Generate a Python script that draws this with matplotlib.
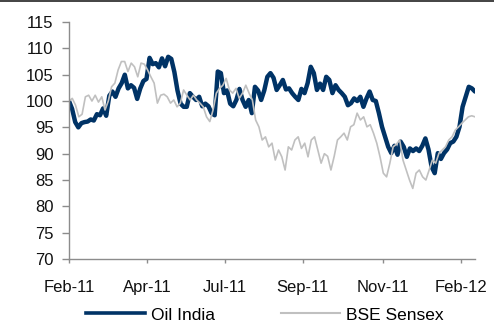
import numpy as np
import matplotlib
matplotlib.use("Agg")
from matplotlib import pyplot as plt
from matplotlib.lines import Line2D

plt.rcParams['font.family'] = ['Liberation Sans', 'DejaVu Sans']

# Rebased prices (start = 100)
oil_india = [100, 98.5, 96.0, 95.0, 95.8, 96.0, 96.1, 96.5, 96.3, 97.5, 97.3, 98.6, 97.2,
             101.0, 101.8, 100.8, 102.4, 103.4, 105.0, 102.4, 103.0, 102.5, 100.4, 102.4,
             103.8, 104.2, 108.2, 107.0, 107.2, 106.4, 108.1, 106.6, 108.4, 108.0, 105.5,
             102.0, 99.5, 98.9, 98.9, 101.5, 100.8, 100.2, 100.8, 99.0, 99.5, 99.0, 97.7,
             97.3, 105.6, 105.3, 101.5, 102.0, 99.5, 99.0, 100.2, 102.3, 100.2, 98.9, 100.2,
             97.7, 102.7, 102.0, 100.2, 102.0, 104.6, 105.3, 104.4, 102.1, 103.0, 104.0,
             102.2, 102.4, 101.5, 100.8, 100.2, 102.3, 101.5, 103.4, 106.5, 105.3, 102.1,
             103.3, 102.1, 104.6, 104.0, 101.5, 103.0, 102.1, 101.5, 100.8, 99.2, 99.6,
             100.5, 100.0, 100.8, 98.9, 100.5, 101.8, 100.2, 100.0, 97.7, 95.1, 93.2, 91.3,
             90.1, 91.5, 89.8, 92.3, 91.3, 89.4, 91.0, 90.5, 91.0, 90.5, 91.5, 92.9, 90.8,
             87.5, 86.3, 90.1, 89.0, 90.1, 90.8, 92.0, 92.3, 93.2, 95.1, 98.9, 100.8, 102.7,
             102.4, 101.8]
sensex = [100, 100.5, 99.2, 97.0, 97.5, 100.8, 101.1, 100.0, 101.1, 99.8, 100.8, 98.3,
          100.0, 102.7, 103.4, 105.9, 107.5, 107.5, 105.6, 107.2, 106.5, 104.6, 107.2, 107.0,
          105.9, 104.6, 103.4, 99.6, 101.1, 101.3, 100.8, 99.6, 100.2, 98.9, 99.6, 102.1,
          101.1, 100.2, 101.1, 100.2, 99.6, 98.9, 97.0, 96.1, 98.3, 101.5, 102.4, 103.0,
          104.3, 102.1, 101.5, 102.4, 100.5, 101.5, 103.0, 101.5, 100.2, 96.4, 95.1, 92.6,
          93.2, 91.3, 92.0, 88.8, 90.7, 89.4, 86.9, 91.3, 90.7, 92.6, 93.2, 91.0, 92.0, 89.4,
          92.6, 93.2, 90.7, 88.2, 90.0, 89.5, 86.9, 89.5, 92.6, 93.2, 93.9, 92.6, 95.1, 95.5,
          97.7, 96.4, 97.0, 95.1, 95.5, 93.9, 92.0, 89.4, 86.3, 85.6, 88.2, 91.3, 91.8, 92.6,
          88.8, 86.9, 85.0, 83.4, 86.3, 86.9, 85.6, 85.0, 86.9, 88.8, 88.2, 90.1, 90.7, 91.3,
          92.6, 93.2, 94.5, 95.1, 95.8, 96.4, 97.0, 97.2, 97.0]
tick_labels = ['Feb-11', 'Apr-11', 'Jul-11', 'Sep-11', 'Nov-11', 'Feb-12']
tick_pos = [0, 0.192, 0.384, 0.576, 0.773, 0.966]

navy = '#003366'
grey = '#c0c0c0'
axis_grey = '#8c8c8c'

fig = plt.figure(figsize=(4.94, 3.24), dpi=100)
ax = fig.add_axes([0.1397, 0.2006, 0.8218, 0.7314])

ax.plot(np.linspace(0, 1, len(oil_india)), oil_india, color=navy, lw=3.2,
        solid_joinstyle='round', solid_capstyle='round')
ax.plot(np.linspace(0, 1, len(sensex)), sensex, color=grey, lw=1.2)

ax.set_xlim(0, 1)
ax.set_ylim(70, 115)
ax.set_yticks(range(70, 116, 5))
ax.set_xticks(tick_pos)
ax.set_xticklabels(tick_labels)

for s in ['top', 'right']:
    ax.spines[s].set_visible(False)
for s in ['left', 'bottom']:
    ax.spines[s].set_color(axis_grey)
    ax.spines[s].set_linewidth(1.0)
ax.tick_params(axis='y', length=5, width=1, color=axis_grey, pad=6, labelsize=12,
               labelcolor='#111111')
ax.tick_params(axis='x', length=3, width=1, color=axis_grey, pad=12, labelsize=12,
               labelcolor='#111111')

# thin rule across the top of the figure
fig.add_artist(Line2D([0, 1], [0.996, 0.996], transform=fig.transFigure,
                      color='#222222', lw=1.2))

handles = [Line2D([], [], color=navy, lw=2.6), Line2D([], [], color=grey, lw=1.5)]
fig.legend(handles, ['Oil India', 'BSE Sensex'], loc='center', ncol=2,
           bbox_to_anchor=(0.536, 0.028), frameon=False, fontsize=12.5,
           handlelength=3.4, handletextpad=0.35, columnspacing=3.8,
           borderaxespad=0, borderpad=0)

fig.savefig('out.png', dpi=100)
